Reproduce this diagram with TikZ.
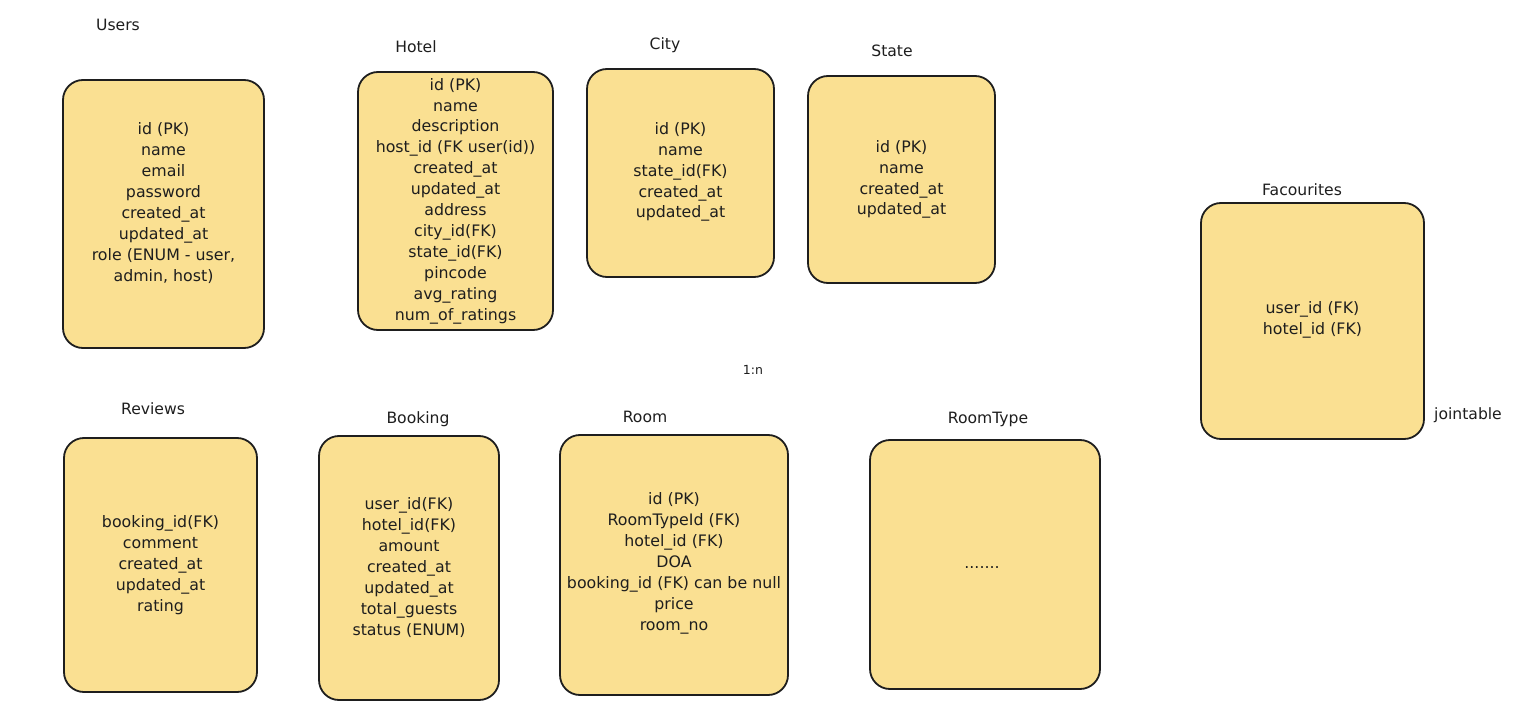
\documentclass[tikz,border=0pt]{standalone}
\usepackage{fontspec}
\setmainfont{DejaVu Sans}
\definecolor{boxfill}{RGB}{250,224,146}
\definecolor{ink}{RGB}{30,30,30}
\begin{document}
\begin{tikzpicture}[x=1pt,y=-1pt,
  tbl/.style={draw=ink,line width=1.8pt,fill=boxfill,rounded corners=20pt,
    rectangle,inner sep=0pt},
  fields/.style={align=center,text=ink,font=\fontsize{15.8}{20.9}\selectfont,inner sep=0pt},
  ttl/.style={text=ink,font=\fontsize{15.6}{17}\selectfont,inner sep=0pt}]
\path[use as bounding box,fill=white] (0,0) rectangle (1536,727);

% Users
\node[tbl,minimum width=201pt,minimum height=268pt] (users) at (163.5,214) {};
\node[ttl] (usersT) at (118,25) {Users};
\node[fields] (usersF) at (163.5,203) {id (PK)\\name\\email\\password\\created\_at\\updated\_at\\role (ENUM - user,\\admin, host)};

% Hotel
\node[tbl,minimum width=195pt,minimum height=258pt] (hotel) at (455.5,201) {};
\node[ttl] (hotelT) at (416,47) {Hotel};
\node[fields] (hotelF) at (455.5,201) {id (PK)\\name\\description\\host\_id (FK user(id))\\created\_at\\updated\_at\\address\\city\_id(FK)\\state\_id(FK)\\pincode\\avg\_rating\\num\_of\_ratings};

% City
\node[tbl,minimum width=187pt,minimum height=208pt] (city) at (680.5,173) {};
\node[ttl] (cityT) at (665,45) {City};
\node[fields] (cityF) at (680.5,172) {id (PK)\\name\\state\_id(FK)\\created\_at\\updated\_at};

% State
\node[tbl,minimum width=187pt,minimum height=207pt] (state) at (901.5,179.5) {};
\node[ttl] (stateT) at (892,51) {State};
\node[fields] (stateF) at (901.5,179.5) {id (PK)\\name\\created\_at\\updated\_at};

% Facourites
\node[tbl,minimum width=223pt,minimum height=236pt] (fav) at (1312.5,321) {};
\node[ttl] (favT) at (1302,190) {Facourites};
\node[fields] (favF) at (1312.5,320) {user\_id (FK)\\hotel\_id (FK)};
\node[ttl] (joinT) at (1468,415) {jointable};

% 1:n
\node[ttl,font=\fontsize{12.5}{14}\selectfont] (onen) at (753,370) {1:n};

% Reviews
\node[tbl,minimum width=193pt,minimum height=254pt] (reviews) at (160.5,565) {};
\node[ttl] (reviewsT) at (153,409) {Reviews};
\node[fields] (reviewsF) at (160.5,565) {booking\_id(FK)\\comment\\created\_at\\updated\_at\\rating};

% Booking
\node[tbl,minimum width=180pt,minimum height=264pt] (booking) at (409,568) {};
\node[ttl] (bookingT) at (418,419) {Booking};
\node[fields] (bookingF) at (409,567.5) {user\_id(FK)\\hotel\_id(FK)\\amount\\created\_at\\updated\_at\\total\_guests\\status (ENUM)};

% Room
\node[tbl,minimum width=228pt,minimum height=260pt] (room) at (674,565) {};
\node[ttl] (roomT) at (645,417) {Room};
\node[fields] (roomF) at (674,563.5) {id (PK)\\RoomTypeId (FK)\\hotel\_id (FK)\\DOA\\booking\_id (FK) can be null\\price\\room\_no};

% RoomType
\node[tbl,minimum width=230pt,minimum height=249pt] (roomtype) at (985,564.5) {};
\node[ttl] (roomtypeT) at (988,419) {RoomType};
\node[fields] (roomtypeF) at (982,568) {.......};
\end{tikzpicture}
\end{document}
